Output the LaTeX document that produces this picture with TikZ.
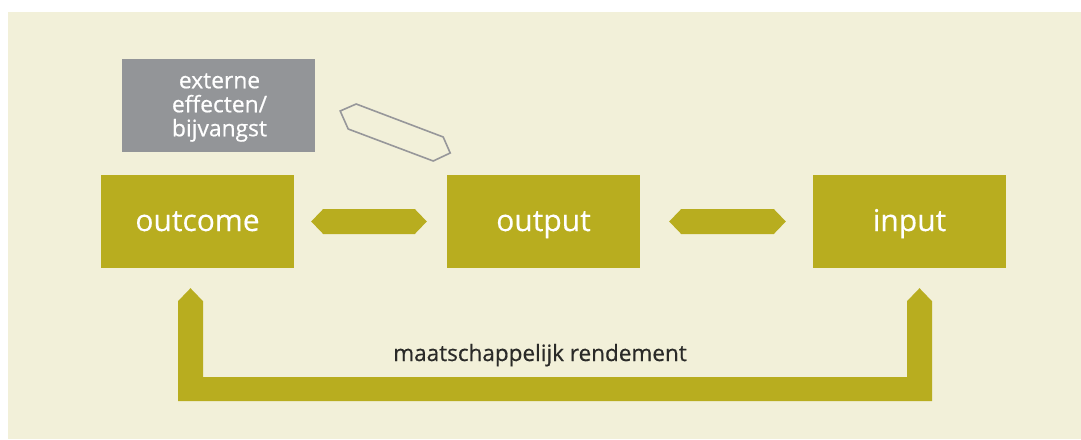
\documentclass[tikz,border=0pt]{standalone}
\usepackage{fontspec}
\setmainfont{Open Sans}
\newfontfamily\medfont{Open Sans}[FakeBold=0.6]
\newfontfamily\stagefont{Open Sans}[FakeBold=0.3]
\usetikzlibrary{calc}
\definecolor{cream}{RGB}{242,240,217}
\definecolor{olivec}{RGB}{184,173,31}
\definecolor{greybox}{RGB}{147,149,152}
\definecolor{greyline}{RGB}{151,151,154}
\definecolor{darktext}{RGB}{42,42,40}
\tikzset{
  stage/.style={fill=olivec, minimum width=193pt, minimum height=93pt, inner sep=0pt,
    text=white, font=\stagefont\fontsize{30}{36}\selectfont, text height=24pt, text depth=5pt},
  sidebox/.style={fill=greybox, minimum width=193pt, minimum height=93pt, inner sep=0pt},
  sidetext/.style={text=white, align=center, inner sep=0pt,
    font=\medfont\fontsize{22.8}{24}\selectfont},
  flow/.style={fill=olivec},
  sideflow/.style={draw=greyline, line width=1.6pt, line join=miter, fill=none}
}
\begin{document}
\begin{tikzpicture}[x=1pt, y=-1pt]
  % canvas
  \useasboundingbox (0,0) rectangle (1081,439);
  \fill[white] (0,0) rectangle (1081,439);
  \fill[cream] (8,12) rectangle (1081,439);

  % stages
  \node[stage] (outcome) at (197.5,221.5) {outcome};
  \node[stage] (output)  at (543.5,221.5) {output};
  \node[stage] (input)   at (909.5,221.5) {input};
  \node[sidebox] (extern) at (218.5,105.5) {};
  \node[sidetext] (externtxt) at ($(extern.center)+(1,2)$) {externe\\effecten/\\bijvangst};

  % double-headed connectors between the stages
  \path ($(outcome.east)+(17,0)$) coordinate (a1s)
        ($(output.west)+(-20,0)$) coordinate (a1e)
        ($(output.east)+(29,0)$)  coordinate (a2s)
        ($(input.west)+(-27,0)$)  coordinate (a2e);
  \fill[flow] (a1s) -- ($(a1s)+(12,-12.5)$) -- ($(a1e)+(-12,-12.5)$) -- (a1e)
              -- ($(a1e)+(-12,12.5)$) -- ($(a1s)+(12,12.5)$) -- cycle;
  \fill[flow] (a2s) -- ($(a2s)+(12,-12.5)$) -- ($(a2e)+(-12,-12.5)$) -- (a2e)
              -- ($(a2e)+(-12,12.5)$) -- ($(a2s)+(12,12.5)$) -- cycle;

  % feedback loop from input back to outcome
  \path ($(outcome.south)+(-7,20)$) coordinate (loopL)
        ($(input.south)+(10,20)$)   coordinate (loopR);
  \fill[flow] (loopL) -- ($(loopL)+(12.5,13)$) -- ($(loopL)+(12.5,89)$)
              -- ($(loopR)+(-12.5,89)$) -- ($(loopR)+(-12.5,13)$) -- (loopR)
              -- ($(loopR)+(12.5,13)$) -- ($(loopR)+(12.5,113)$)
              -- ($(loopL)+(-12.5,113)$) -- ($(loopL)+(-12.5,13)$) -- cycle;
  \node[anchor=base, text=darktext, font=\medfont\fontsize{22.5}{26}\selectfont,
        inner sep=0pt] (rendement) at (540,361) {maatschappelijk rendement};

  % outlined connector towards the side effects
  \coordinate (sx) at (extern.east);
  \draw[sideflow] ($(sx)+(25,5.5)$) -- ($(sx)+(41,-1.5)$) -- ($(sx)+(128,31.5)$)
                  -- ($(sx)+(135,47.5)$) -- ($(sx)+(118,55.5)$) -- ($(sx)+(33,23.5)$)
                  -- cycle;
\end{tikzpicture}
\end{document}
